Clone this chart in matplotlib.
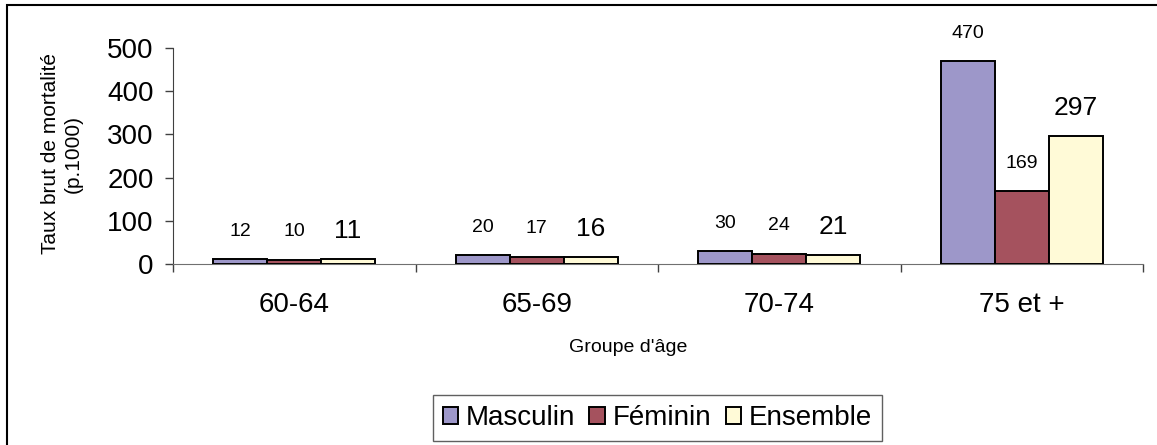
import matplotlib
matplotlib.use("Agg")
import matplotlib.pyplot as plt
import numpy as np
from matplotlib.patches import Rectangle

plt.rcParams["font.family"] = ["Liberation Sans", "DejaVu Sans"]

# data
groups    = ["60-64", "65-69", "70-74", "75 et +"]
series    = ["Masculin", "Féminin", "Ensemble"]
masculin  = [12, 20, 30, 470]
feminin   = [10, 17, 24, 169]
ensemble  = [11, 16, 21, 297]

COLORS = ["#9D97C9", "#A5525E", "#FFFAD7"]
LABEL_SIZES = [14, 14, 19]

W, H = 1157, 445
fig = plt.figure(figsize=(W / 100, H / 100), dpi=100)
ax = fig.add_axes([173 / W, 1 - 264 / H, (1143 - 173) / W, (264 - 48) / H])

xs = np.arange(len(groups))
bw = 0.222
handles = []
for k, (vals, col) in enumerate(zip([masculin, feminin, ensemble], COLORS)):
    bars = ax.bar(xs + (k - 1) * bw, vals, bw, color=col, edgecolor="black",
                  linewidth=1.4, label=series[k], zorder=3)
    handles.append(bars)
    for x, v in zip(xs + (k - 1) * bw, vals):
        ax.annotate(str(v), (x, v), xytext=(0, 20), textcoords="offset points",
                    ha="center", va="center", fontsize=LABEL_SIZES[k])

ax.set_xlim(-0.5, len(groups) - 0.5)
ax.set_ylim(0, 500)
ax.set_yticks(range(0, 501, 100))
ax.tick_params(axis="y", labelsize=20, length=6, width=1, color="#404040", pad=8)

# category boundaries get the tick marks, centers get the labels
ax.set_xticks(np.arange(-0.5, len(groups), 1.0))
ax.set_xticklabels([])
ax.set_xticks(xs, minor=True)
ax.set_xticklabels(groups, minor=True)
ax.tick_params(axis="x", which="major", length=6, width=1, color="#404040")
ax.tick_params(axis="x", which="minor", length=0, labelsize=20, pad=20)

for s in ["top", "right"]:
    ax.spines[s].set_visible(False)
ax.spines["left"].set_color("#404040")
ax.spines["bottom"].set_color("#707070")

fig.text(62 / W, 1 - 154 / H, "Taux brut de mortalité\n(p.1000)", rotation=90,
         ha="center", va="center", multialignment="center", fontsize=15,
         linespacing=1.3)
fig.text(628 / W, 1 - 348 / H, "Groupe d'âge", ha="center", va="center",
         fontsize=14)

leg = fig.legend(handles=handles, loc="center", bbox_to_anchor=(657.5 / W, 1 - 418 / H),
                 ncol=3, fontsize=20, frameon=True, fancybox=False,
                 edgecolor="#606060", framealpha=1, handlelength=0.55,
                 handleheight=0.55, handletextpad=0.3, columnspacing=0.5,
                 borderpad=0.35)
leg.get_frame().set_linewidth(1)

# outer chart frame
fig.patches.append(Rectangle((7 / W, -0.1), 1.2, 1 - 5 / H + 0.1,
                             transform=fig.transFigure, fill=False,
                             edgecolor="black", linewidth=1.5))

fig.savefig("out.png", dpi=100)
